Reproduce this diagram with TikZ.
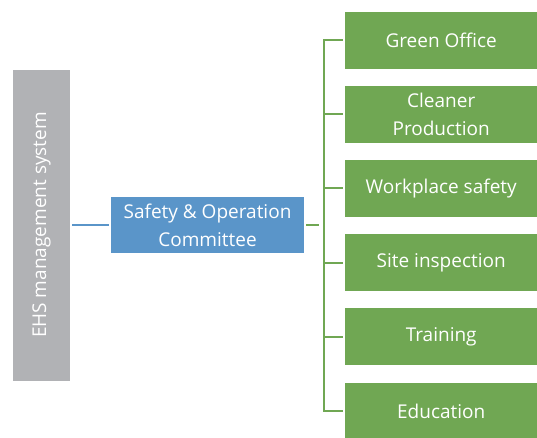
\documentclass[tikz,border=0pt]{standalone}
\usepackage{fontspec}
\setmainfont{Open Sans}
\usetikzlibrary{positioning}
\definecolor{ehsgray}{HTML}{B1B2B5}
\definecolor{socblue}{HTML}{5A95C9}
\definecolor{taskgreen}{HTML}{70A753}
\begin{document}
\begin{tikzpicture}[x=1pt, y=-1pt,
        every node/.style={inner sep=0pt, text=white, align=center,
        font=\fontsize{19}{28}\selectfont},
        task/.style={fill=taskgreen, minimum width=192pt, minimum height=57pt,
        anchor=west},
        link/.style={line width=2pt, draw=taskgreen},
      ]
      \useasboundingbox (0,0) rectangle (537,437);
      \node[fill=ehsgray, rotate=90, minimum width=311pt, minimum height=57pt]
        (ehs) at (41.5,225) {EHS management system};
      \node[fill=socblue, minimum width=193pt, minimum height=56pt]
        (soc) at (207.5,225) {Safety \& Operation\\Committee};
      \coordinate (fork) at (324,225);
      \draw[line width=2pt, draw=socblue, shorten <=2pt, shorten >=2pt]
        (ehs.south) -- (soc.west);
      \draw[link, shorten <=2pt, shorten >=5pt] (soc.east) -- (fork);
      % branches
      \foreach \name/\txt [count=\i] in {office/Green Office,
          cleaner/{Cleaner\\Production}, workplace/Workplace safety,
          site/Site inspection, training/Training, education/Education} {
        \node[task] (\name) at (345,{40+74.2*(\i-1)}) {\txt};
        \draw[link, shorten >=2pt] (fork) |- (\name.west);
      }
    \end{tikzpicture}
\end{document}
